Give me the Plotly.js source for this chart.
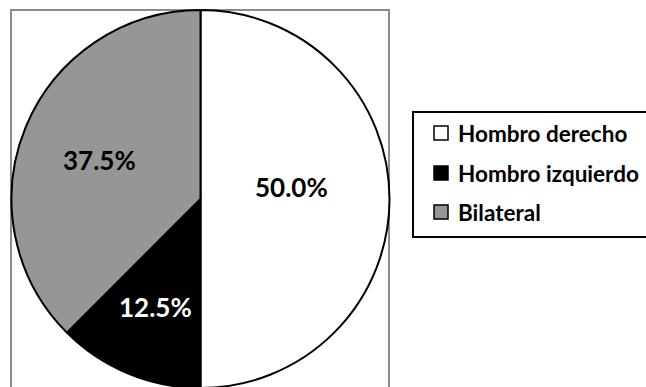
<!DOCTYPE html>
<html>
<head>
<meta charset="utf-8">
<script src="https://cdn.plot.ly/plotly-3.0.1.min.js"></script>
<style>
  html, body { margin: 0; padding: 0; overflow: hidden; background: #fff; }
  #wrap { width: 646px; height: 387px; overflow: hidden; }
</style>
</head>
<body>
<div id="wrap"><div id="chart"></div></div>
<script>
// Distribución por lado afectado
const labels = ['Hombro derecho', 'Hombro izquierdo', 'Bilateral'];
const values = [50.0, 12.5, 37.5];
const colors = ['#ffffff', '#000000', '#969696'];
const textColors = ['#000000', '#ffffff', '#000000'];

// page geometry (px); the figure is a little taller than the window so the
// pie runs off the bottom edge
const W = 646, H = 398;
const cx = 200.5, cy = 199, R = 189;
const fx = x => x / W;
const fy = y => 1 - y / H;
const FONT = 'Lato, "Open Sans", sans-serif';

const total = values.reduce((a, b) => a + b, 0);

// percentage labels placed along each slice's bisector
const labelR = [0.48, 0.62, 0.58];
const labelDy = [-12, 0, 3];
const annotations = [];
let acc = 0;
values.forEach((v, i) => {
  const mid = (acc + v / 2) / total * 2 * Math.PI;
  acc += v;
  const x = cx + Math.sin(mid) * R * labelR[i];
  const y = cy - Math.cos(mid) * R * labelR[i] + labelDy[i];
  annotations.push({
    xref: 'paper', yref: 'paper', x: fx(x), y: fy(y),
    xanchor: 'center', yanchor: 'middle', showarrow: false,
    text: (v / total * 100).toFixed(1) + '%',
    font: { family: FONT, size: 26, color: textColors[i], weight: 'bold' }
  });
});

// hand-built legend box with swatches
const shapes = [
  { type: 'rect', xref: 'paper', yref: 'paper', layer: 'below',
    x0: fx(11), x1: fx(389), y0: fy(420), y1: fy(10),
    line: { color: '#8c8c8c', width: 2 }, fillcolor: 'rgba(0,0,0,0)' },
  { type: 'rect', xref: 'paper', yref: 'paper',
    x0: fx(413), x1: fx(680), y0: fy(237), y1: fy(112),
    line: { color: '#000000', width: 2 }, fillcolor: 'rgba(0,0,0,0)' }
];
const rowY = [133, 173, 212];
const sw = 14, swX = 434, txtX = 456;
labels.forEach((lab, i) => {
  shapes.push({
    type: 'rect', xref: 'paper', yref: 'paper',
    x0: fx(swX), x1: fx(swX + sw), y0: fy(rowY[i] + sw / 2), y1: fy(rowY[i] - sw / 2),
    line: { color: '#000000', width: 1.5 }, fillcolor: colors[i]
  });
  annotations.push({
    xref: 'paper', yref: 'paper', x: fx(txtX), y: fy(rowY[i]),
    xanchor: 'left', yanchor: 'middle', showarrow: false, text: lab,
    font: { family: FONT, size: 22.5, color: '#000000', weight: 'bold' }
  });
});

const trace = {
  type: 'pie',
  labels: labels,
  values: values,
  sort: false,
  direction: 'clockwise',
  rotation: 0,
  textinfo: 'none',
  hoverinfo: 'label+percent',
  showlegend: false,
  marker: { colors: colors, line: { color: '#000000', width: 2 } },
  domain: { x: [fx(cx - R), fx(cx + R)], y: [fy(cy + R), fy(cy - R)] }
};

const layout = {
  width: W, height: H,
  margin: { l: 0, r: 0, t: 0, b: 0 },
  paper_bgcolor: '#ffffff',
  plot_bgcolor: '#ffffff',
  showlegend: false,
  shapes: shapes,
  annotations: annotations
};

Plotly.newPlot('chart', [trace], layout, { displayModeBar: false, staticPlot: true });
</script>
</body>
</html>
